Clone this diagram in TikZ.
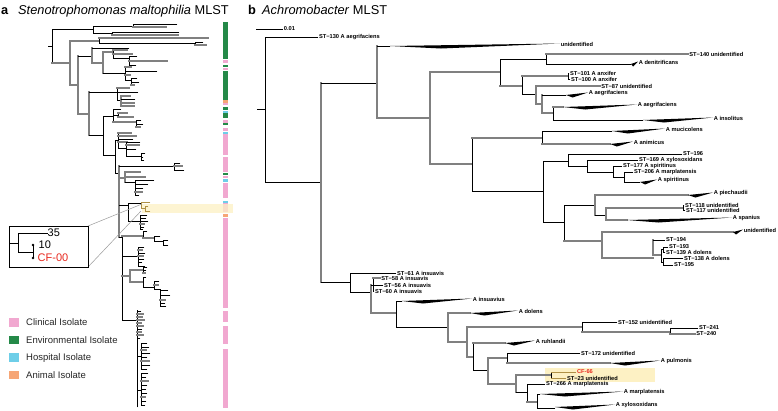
\documentclass[tikz,border=0pt]{standalone}
\usepackage{fontspec}
\setmainfont{Liberation Sans}
\definecolor{cpink}{RGB}{241,168,208}
\definecolor{cgreen}{RGB}{36,137,72}
\definecolor{ccyan}{RGB}{110,206,232}
\definecolor{corange}{RGB}{246,166,118}
\definecolor{chl}{RGB}{253,241,196}
\definecolor{cgray}{RGB}{128,128,128}
\definecolor{cred}{RGB}{232,40,30}
\definecolor{colive}{RGB}{175,145,70}
\tikzset{
  bk/.style={draw=black, line width=0.85pt, line cap=rect},
  gy/.style={draw=cgray, line width=1.3pt, line cap=rect},
  ol/.style={draw=colive, line width=0.8pt, line cap=rect},
  lab/.style={font=\fontsize{5.7}{6}\selectfont\bfseries, anchor=west, inner sep=0.6pt},
  leg/.style={font=\fontsize{9.5}{11}\selectfont, anchor=west, inner sep=0pt, text=black!85},
  ttl/.style={font=\fontsize{12.8}{14}\selectfont, anchor=base west, inner sep=0pt},
  ins/.style={font=\fontsize{11}{12}\selectfont, anchor=west, inner sep=0.5pt},
}
% horizontal branch: style, y, x1, x2
\newcommand\mtb[4]{\draw[#1] (#3,#2) -- (#4,#2);}
% vertical node line: style, x, y1, y2
\newcommand\mtn[4]{\draw[#1] (#2,#3) -- (#2,#4);}
% leaves from node x: list y/x2/style
\newcommand\mlv[2]{\foreach \yy/\xx/\ss in {#2}{\draw[\ss] (#1,\yy) -- (\xx,\yy);}}
% labelled leaf: style, y, x1, x2, label
\newcommand\mlf[5]{\draw[#1] (#3,#2) -- (#4,#2) node[lab] {#5};}
% collapsed clade wedge: y, x0, x2, label
\newcommand\mwd[4]{\fill[black] (#2,#1) -- (#3,#1-2.5) -- ({#2+0.3*(#3-#2)},#1+2.5) -- cycle; \node[lab] at (#3,#1-2) {#4};}
\begin{document}
\begin{tikzpicture}[x=1pt,y=-1pt]
\fill[white] (0,0) rectangle (778,410);
\useasboundingbox (0,0) rectangle (778,410);

% ================= titles =================
\node[ttl] (ta) at (1,14.5) {\bfseries a};
\node[ttl] (tat) at (18,14.5) {\textit{Stenotrophomonas maltophilia} MLST};
\node[ttl] (tb) at (248,14.5) {\bfseries b};
\node[ttl] (tbt) at (262,14.5) {\textit{Achromobacter} MLST};

% ================= panel a : colour bar =================
\foreach \ya/\yb/\cc in {22/59/cgreen, 60/63/cpink, 65/67/cgreen, 68/70/cpink, 71/100/cgreen,
  100/103/corange, 103/105/cpink, 107/110/cgreen, 111/113/ccyan, 113/118/cgreen, 120/123/cpink,
  123/125/cgreen, 128/131/cpink, 132/134/ccyan, 134/155/cpink, 157/172/cpink, 173/175/cgreen,
  176/178/cpink, 179/182/ccyan, 183/198/cpink, 201/203/ccyan, 203/212/cpink, 214/217/corange,
  218/308/cpink, 311/322/cpink, 326/344/cpink, 349/408/cpink}
  {\fill[\cc] (223,\ya) rectangle (228,\yb);}
\fill[chl, opacity=0.75] (142,204) rectangle (233,213);

% ================= panel a : tree =================
\mtb{bk}{46}{48}{52} \mtn{bk}{52}{29}{63}
% top clade
\mtb{bk}{29}{52}{93} \mtn{bk}{93}{26}{33}
\mtb{bk}{26}{93}{133} \mtn{bk}{133}{24}{27} \mlv{133}{24/177/bk, 27/166/gy}
\mtb{bk}{33}{93}{112} \mtn{bk}{112}{32}{35} \mlv{112}{32/179/bk, 35/178/gy}
% second clade
\mtb{gy}{63}{52}{70} \mtn{gy}{70}{41}{85}
\mtb{gy}{41}{70}{99} \mtn{bk}{99}{38}{43} \mlv{99}{38/208/gy}
\mtb{bk}{43}{99}{195} \mtn{bk}{195}{42}{45} \mlv{195}{42/203/bk, 45/206/gy}
\mtb{gy}{85}{70}{78} \mtn{gy}{78}{56}{114}
\mtb{bk}{56}{78}{92} \mtn{gy}{92}{48}{63}
\mtb{bk}{48}{92}{129}
\mtb{gy}{63}{92}{103} \mtn{gy}{103}{52}{73}
\mtb{gy}{52}{103}{113} \mtn{bk}{113}{50}{58} \mlv{113}{50/127/gy, 54/132/gy}
\mtb{bk}{58}{113}{129} \mtn{bk}{129}{56}{65} \mlv{129}{56/137/bk, 61/167/gy, 65/136/bk}
\mtb{bk}{73}{103}{125} \mtn{bk}{125}{67}{80} \mlv{125}{67/131/gy, 71/157/bk, 75/130/gy}
\mtb{bk}{80}{125}{131} \mtn{bk}{131}{78}{85} \mlv{131}{78/137/bk, 82/139/bk, 85/134/gy}
\mtb{gy}{114}{78}{89} \mtn{gy}{89}{92}{135}
\mtb{bk}{92}{89}{117} \mtn{bk}{117}{88}{100} \mlv{117}{88/129/gy, 92/138/bk}
\mtb{bk}{100}{117}{121} \mtn{gy}{121}{96}{106} \mlv{121}{96/130/gy, 99/135/bk, 103/134/gy, 106/134/gy}
\mtb{bk}{135}{89}{103} \mtn{bk}{103}{116}{155}
\mtb{bk}{116}{103}{113} \mtn{bk}{113}{109}{122} \mlv{113}{109/121/bk}
\mtb{bk}{115}{113}{118} \mtn{bk}{118}{113}{117} \mlv{118}{113/127/gy, 117/133/gy}
\mtb{gy}{122}{113}{136} \mtn{bk}{136}{120}{127} \mlv{136}{120/141/bk, 124/143/bk, 127/140/gy}
\mtb{bk}{155}{103}{115} \mtn{bk}{115}{140}{173}
\mtb{bk}{140}{115}{118} \mtn{bk}{118}{133}{148} \mlv{118}{133/131/gy, 136/136/gy, 139/133/bk, 142/127/gy}
\mtb{bk}{148}{118}{126} \mtn{bk}{126}{142}{156} \mlv{126}{142/140/bk, 145/139/gy, 149/136/bk}
\mtb{bk}{156}{126}{141} \mtn{bk}{141}{153}{160} \mlv{141}{153/145/bk, 157/143/bk, 160/144/bk}
\mtb{bk}{173}{115}{119} \mtn{gy}{119}{166}{237}
\mtb{bk}{166}{119}{174} \mtn{bk}{174}{163}{170} \mlv{174}{163/180/bk, 166/182/gy, 170/184/bk}
\mtb{gy}{178}{119}{125} \mtn{gy}{125}{172}{182} \mlv{125}{172/140/gy, 177/145/gy}
\mtb{bk}{182}{125}{135} \mtn{bk}{135}{180}{195} \mlv{135}{180/154/bk, 184/148/bk, 188/143/bk, 192/142/gy, 195/139/bk}
\mtb{bk}{205}{119}{128} \mtn{bk}{128}{203}{221}
\mtb{bk}{203}{128}{141} \mtn{ol}{141}{202}{208} \mlv{141}{202/150/ol}
\mtb{ol}{208}{141}{145} \mtn{ol}{145}{206}{211} \mlv{145}{206/148/ol, 211/150/ol}
\mtb{bk}{221}{128}{140} \mtn{bk}{140}{215}{229} \mlv{140}{215/147/bk, 218/146/bk, 221/148/bk, 224/144/gy, 227/144/bk, 229/143/bk}
\mtb{bk}{237}{119}{122} \mtn{bk}{122}{237}{320}
\mtb{gy}{236}{122}{143} \mtn{bk}{143}{231}{238} \mlv{143}{231/147/bk}
\mtb{gy}{238}{143}{154} \mtn{bk}{154}{236}{241} \mlv{154}{236/160/bk}
\mtb{bk}{241}{154}{163} \mtn{bk}{163}{240}{245} \mlv{163}{240/168/bk, 245/168/bk}
\mtb{bk}{256}{122}{138} \mtn{bk}{138}{247}{266} \mlv{138}{247/144/bk, 250/142/gy, 253/145/bk, 256/143/gy, 259/144/bk, 262/142/bk, 266/145/bk}
\mtb{gy}{276}{122}{130} \mtn{gy}{130}{270}{282}
\mtb{gy}{270}{130}{143} \mtn{bk}{143}{267}{273} \mlv{143}{267/147/bk, 270/146/bk, 273/145/gy}
\mtb{gy}{282}{130}{143} \mtn{bk}{143}{277}{287} \mlv{143}{277/146/bk}
\mtb{bk}{287}{143}{154} \mtn{bk}{154}{281}{289} \mlv{154}{281/159/bk, 285/158/gy}
\mtb{bk}{289}{154}{160} \mtn{bk}{160}{289}{306} \mlv{160}{290/168/bk, 295/170/bk, 300/165/gy, 303/165/bk, 306/166/bk}
\mtb{bk}{320}{122}{137} \mtn{bk}{137}{310}{407}
\mlv{137}{311/141/bk, 314/143/gy, 317/142/gy, 320/144/gy, 323/141/gy, 326/143/gy, 329/142/bk, 332/141/gy, 335/143/gy, 338/140/bk}
\mtb{bk}{356}{137}{141} \mtn{bk}{141}{343}{369} \mlv{141}{343/147/bk, 347/149/bk, 350/146/gy, 353/150/bk, 357/147/bk, 361/149/gy, 365/150/bk, 369/147/bk}
\mtb{bk}{390}{137}{141} \mtn{bk}{141}{373}{405} \mlv{141}{373/148/bk, 377/146/bk, 381/148/gy, 385/147/bk, 389/146/bk, 393/147/bk, 397/145/gy, 401/146/bk, 405/145/bk}

% inset
\draw[cgray!80, line width=0.5pt] (88,226) -- (142,204);
\draw[cgray!80, line width=0.5pt] (88,267) -- (141,211);
\draw[black, line width=0.9pt, fill=white] (9,226) rectangle (88,267);
\draw[black, line width=0.9pt] (10,243) -- (18,243) (18,233) -- (18,252) (18,233) -- (48,233) (18,252) -- (33,252) (33,245) -- (33,258);
\fill[black] (33,245) circle (1.3) (33,258) circle (1.3);
\node[ins] (i35) at (47,233) {35};
\node[ins] (i10) at (38,245) {10};
\node[ins, text=cred] (icf) at (37,258) {CF-00};

% legend
\fill[cpink] (9,318) rectangle (19,327);   \node[leg] (l1) at (26,322.5) {Clinical Isolate};
\fill[cgreen] (9,336) rectangle (19,344);  \node[leg] (l2) at (26,340.5) {Environmental Isolate};
\fill[ccyan] (9,353) rectangle (19,362);   \node[leg] (l3) at (26,358) {Hospital Isolate};
\fill[corange] (9,371) rectangle (19,379); \node[leg] (l4) at (26,375.5) {Animal Isolate};

% ================= panel b =================
\fill[chl] (545,368) rectangle (655,382);
% scale bar
\draw[black, line width=0.7pt] (256,29) -- (283,29) node[lab] {0.01};
% root
\mtb{bk}{109}{257}{265} \mtn{bk}{265}{37}{182}
\mlf{bk}{37}{265}{318}{ST−130 A aegrifaciens}
\mtb{bk}{182}{265}{321} \mtn{gy}{321}{83}{282}
% upper clade
\mtb{bk}{83}{321}{377} \mtn{gy}{377}{46}{118}
\mtb{bk}{46}{377}{390} \mwd{46}{390}{560}{unidentified}
\mtb{gy}{118}{377}{430} \mtn{gy}{430}{72}{164}
\mtb{gy}{72}{430}{500} \mtn{bk}{500}{59}{86}
\mtb{bk}{59}{500}{546} \mtn{bk}{546}{54}{64}
\mlf{gy}{54}{546}{688}{ST−140 unidentified}
\mtb{bk}{64}{546}{631} \mwd{64}{631}{638}{A denitrificans}
\mtb{gy}{86}{500}{522} \mtn{bk}{522}{76}{94}
\mtb{gy}{76}{522}{568} \mtn{bk}{568}{73}{79}
\mlf{bk}{73}{568}{569}{ST−101 A anxifer}
\mlf{bk}{79}{568}{570}{ST−100 A anxifer}
\mtb{bk}{94}{522}{536} \mtn{gy}{536}{86}{104}
\mlf{gy}{86}{536}{600}{ST−87 unidentified}
\mtb{gy}{104}{536}{542} \mtn{gy}{542}{95}{113}
\mtb{bk}{95}{542}{566} \mwd{95}{566}{588}{A aegrifaciens}
\mtb{gy}{113}{542}{553} \mtn{bk}{553}{107}{120}
\mtb{gy}{107}{553}{563} \mwd{107}{563}{637}{A aegrifaciens}
\mtb{bk}{120}{553}{643} \mwd{120}{643}{713}{A insolitus}
\mtb{gy}{164}{430}{472} \mtn{bk}{472}{138}{191}
\mtb{gy}{138}{472}{542} \mtn{bk}{542}{131}{144}
\mtb{bk}{131}{542}{612} \mwd{131}{612}{665}{A mucicolens}
\mtb{gy}{144}{542}{610} \mwd{144}{610}{633}{A animicus}
\mtb{bk}{191}{472}{543} \mtn{bk}{543}{161}{222}
\mtb{bk}{161}{543}{568} \mtn{bk}{568}{154}{166}
\mlf{bk}{154}{568}{682}{ST−196}
\mtb{bk}{166}{568}{587} \mtn{bk}{587}{160}{172}
\mlf{bk}{160}{587}{638}{ST−169 A xylosoxidans}
\mtb{bk}{172}{587}{613} \mtn{bk}{613}{166}{177}
\mlf{bk}{166}{613}{622}{ST−177 A spiritinus}
\mtb{bk}{177}{613}{624} \mtn{bk}{624}{172}{182}
\mlf{bk}{172}{624}{633}{ST−206 A marplatensis}
\mtb{bk}{182}{624}{640} \mwd{182}{640}{657}{A spiritinus}
\mtb{bk}{222}{543}{564} \mtn{bk}{564}{205}{241}
\mtb{bk}{205}{564}{595} \mtn{gy}{595}{195}{215}
\mtb{gy}{195}{595}{688} \mwd{195}{688}{713}{A piechaudii}
\mtb{bk}{215}{595}{606} \mtn{gy}{606}{208}{220}
\mtb{gy}{208}{606}{683} \mtn{bk}{683}{205}{210}
\mlf{bk}{205}{683}{684}{ST−118 unidentified}
\mlf{bk}{210}{683}{685}{ST−117 unidentified}
\mtb{gy}{220}{606}{627} \mwd{220}{627}{732}{A spanius}
\mtb{gy}{241}{564}{602} \mtn{gy}{602}{232}{258}
\mtb{gy}{232}{602}{733} \mwd{232}{733}{743}{unidentified}
\mtb{gy}{258}{602}{653} \mtn{gy}{653}{240}{255}
\mlf{bk}{240}{653}{665}{ST−194}
\mtb{gy}{255}{653}{661} \mtn{bk}{661}{249}{262}
\mtb{bk}{249}{661}{663} \mtn{bk}{663}{247}{252}
\mlf{bk}{247}{663}{668}{ST−193}
\mlf{bk}{252}{663}{665}{ST−139 A dolens}
\mtb{bk}{262}{661}{663} \mtn{bk}{663}{258}{265}
\mlf{bk}{258}{663}{683}{ST−138 A dolens}
\mlf{bk}{265}{663}{673}{ST−195}
% lower clade
\mtb{bk}{282}{321}{350} \mtn{bk}{350}{273}{292}
\mlf{bk}{273}{350}{396}{ST−61 A insuavis}
\mtb{bk}{292}{350}{371} \mtn{gy}{371}{285}{313}
\mtb{bk}{285}{371}{373} \mtn{bk}{373}{278}{291}
\mlf{gy}{278}{373}{380}{ST−58 A insuavis}
\mlf{bk}{285}{373}{383}{ST−56 A insuavis}
\mlf{bk}{291}{373}{374}{ST−60 A insuavis}
\mtb{gy}{313}{371}{396} \mtn{bk}{396}{301}{327}
\mtb{bk}{301}{396}{402} \mwd{301}{402}{472}{A insuavius}
\mtb{bk}{327}{396}{448} \mtn{gy}{448}{313}{342}
\mtb{gy}{313}{448}{470} \mwd{313}{470}{518}{A dolens}
\mtb{gy}{342}{448}{467} \mtn{gy}{467}{327}{357}
\mtb{gy}{327}{467}{582} \mtn{bk}{582}{322}{332}
\mlf{bk}{322}{582}{617}{ST−152 unidentified}
\mtb{gy}{332}{582}{670} \mtn{bk}{670}{328}{334}
\mlf{bk}{328}{670}{698}{ST−241}
\mlf{gy}{334}{670}{695}{ST−240}
\mtb{gy}{357}{467}{473} \mtn{bk}{473}{343}{370}
\mtb{gy}{343}{473}{505} \mwd{343}{505}{535}{A ruhlandii}
\mtb{bk}{370}{473}{488} \mtn{gy}{488}{358}{384}
\mtb{gy}{358}{488}{507} \mtn{bk}{507}{353}{363}
\mlf{bk}{353}{507}{580}{ST−172 unidentified}
\mtb{gy}{363}{507}{610} \mwd{363}{610}{660}{A pulmonis}
\mtb{gy}{384}{488}{516} \mtn{gy}{516}{375}{392}
\mtb{gy}{375}{516}{551} \mtn{bk}{551}{372}{378}
\draw[ol] (551,372) -- (576,372) node[lab, text=cred] {CF-66};
\mlf{ol}{378}{551}{566}{ST−23 unidentified}
\mtb{bk}{392}{516}{527} \mtn{bk}{527}{384}{402}
\mlf{bk}{384}{527}{545}{ST−266 A marplatensis}
\mtb{gy}{402}{527}{537} \mtn{bk}{537}{394}{408}
\mtb{bk}{394}{537}{540} \mwd{394}{540}{623}{A marplatensis}
\mtb{bk}{408}{537}{555} \mwd{407}{555}{615}{A xylosoxidans}
\end{tikzpicture}
\end{document}
